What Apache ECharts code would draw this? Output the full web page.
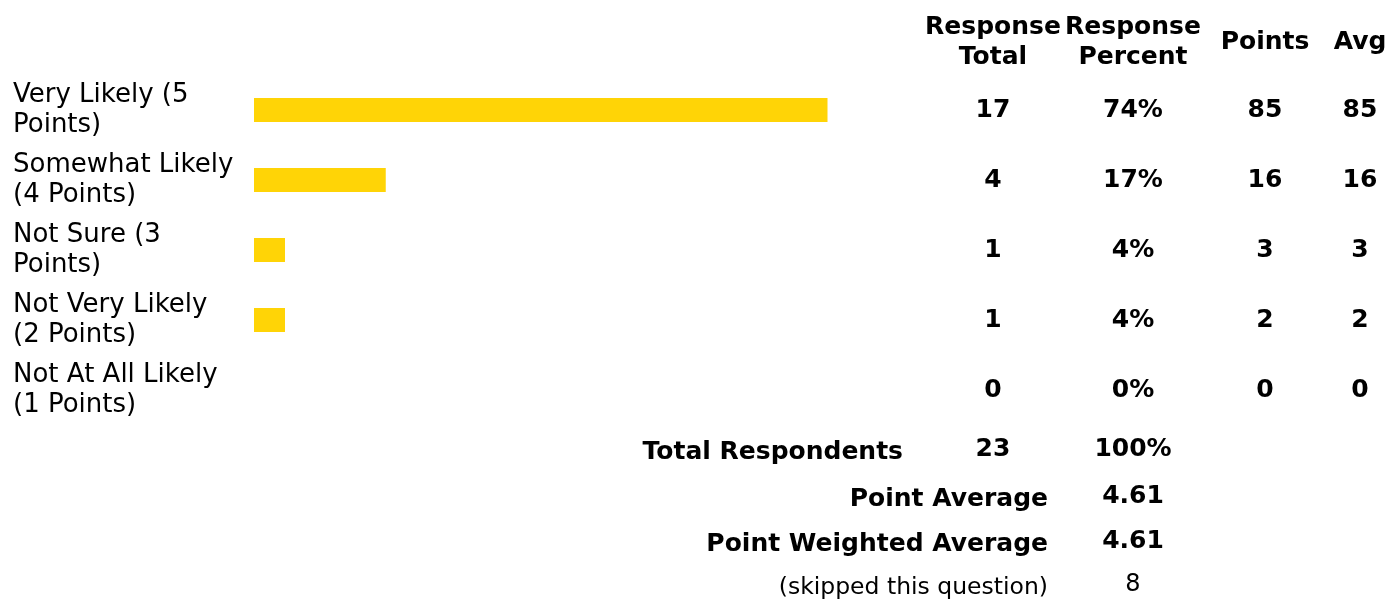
<!DOCTYPE html>
<html><head><meta charset="utf-8">
<script src="https://cdn.jsdelivr.net/npm/echarts@6/dist/echarts.min.js"></script>
<style>html,body{margin:0;padding:0;background:#fff}#c{width:1395px;height:599px}</style>
</head><body><div id="c"></div>
<script>
// ---- data ----
const categories = ['Very Likely (5\nPoints)', 'Somewhat Likely\n(4 Points)', 'Not Sure (3\nPoints)', 'Not Very Likely\n(2 Points)', 'Not At All Likely\n(1 Points)'];
const responseTotal = [17, 4, 1, 1, 0];
const responsePercent = [74, 17, 4, 4, 0];
const pointsCol = [85, 16, 3, 2, 0];
const avgCol = [85, 16, 3, 2, 0];
const headers = ['Response\nTotal', 'Response\nPercent', 'Points', 'Avg'];
const summaryLabels = ['Total Respondents', 'Point Average', 'Point Weighted Average', '(skipped this question)'];
const summaryTotal = ['23', '', '', ''];
const summaryPercent = ['100%', '4.61', '4.61', '8'];

// ---- layout ----
const FONT = 'Verdana, "DejaVu Sans", sans-serif';
const gridLeft = 254, gridTop = 75, gridW = 775, gridH = 350;
const gridRight = gridLeft + gridW;
const colX = [993, 1133, 1265, 1360];
const columns = [responseTotal, responsePercent.map(v => v + '%'), pointsCol, avgCol];

const chart = echarts.init(document.getElementById('c'), null, {renderer: 'canvas'});

const yAxes = [{
  type: 'category', data: categories, inverse: true, gridIndex: 0,
  axisLine: {show: false}, axisTick: {show: false},
  axisLabel: {align: 'left', margin: gridLeft - 13, fontFamily: FONT, fontSize: 26, color: '#000', lineHeight: 30, padding: [5, 0, 0, 0]}
}];
columns.forEach((col, i) => {
  yAxes.push({
    type: 'category', data: col.map(String), inverse: true, gridIndex: 0, position: 'right', offset: 0,
    axisLine: {show: false}, axisTick: {show: false},
    axisLabel: {align: 'center', margin: colX[i] - gridRight, fontFamily: FONT, fontSize: 25, fontWeight: 'bold', color: '#000', padding: [6, 0, 0, 0]}
  });
});

const graphics = [];
headers.forEach((h, i) => {
  graphics.push({type: 'text', x: colX[i], y: 42, style: {text: h, align: 'center', verticalAlign: 'middle', font: 'bold 25px ' + FONT, fill: '#000', lineHeight: 30}});
});
const sumLabelRight = [903, 1048, 1048, 1048];
const sumLabelY = [452, 499, 544.5, 588];
const sumValY = [449.5, 496, 541.5, 585];
summaryLabels.forEach((s, i) => {
  const bold = i < 3;
  graphics.push({type: 'text', x: sumLabelRight[i], y: sumLabelY[i], style: {text: s, align: 'right', verticalAlign: 'middle', font: (bold ? 'bold 25px ' : '23.5px ') + FONT, fill: '#000'}});
  if (summaryTotal[i]) graphics.push({type: 'text', x: colX[0], y: sumValY[i], style: {text: summaryTotal[i], align: 'center', verticalAlign: 'middle', font: 'bold 25px ' + FONT, fill: '#000'}});
  if (summaryPercent[i]) graphics.push({type: 'text', x: colX[1], y: sumValY[i], style: {text: summaryPercent[i], align: 'center', verticalAlign: 'middle', font: (bold ? 'bold 25px ' : '24px ') + FONT, fill: '#000'}});
});

chart.setOption({
  animation: false,
  backgroundColor: '#fff',
  grid: {left: gridLeft, top: gridTop, width: gridW, height: gridH, containLabel: false},
  xAxis: {type: 'value', min: 0, max: 100, show: false},
  yAxis: yAxes,
  series: [{
    type: 'bar', data: responsePercent, yAxisIndex: 0, barWidth: 24,
    itemStyle: {color: '#FFD406'}, silent: true
  }],
  graphic: graphics
});
</script>
</body></html>
